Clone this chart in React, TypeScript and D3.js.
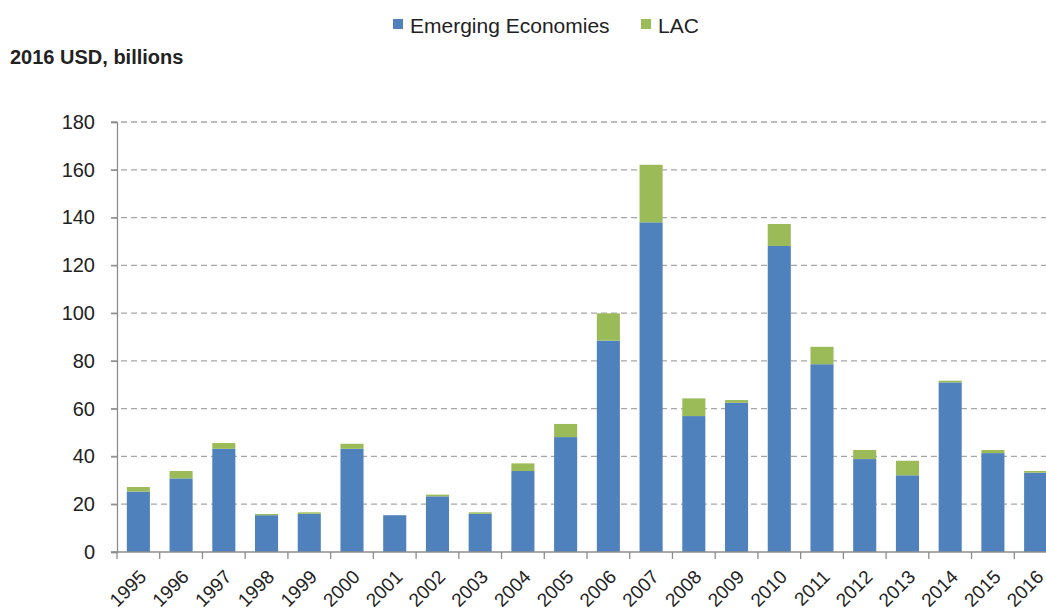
import { useEffect, useRef } from 'react';
import * as d3 from 'd3';

const years = ['1995', '1996', '1997', '1998', '1999', '2000', '2001', '2002', '2003', '2004', '2005',
  '2006', '2007', '2008', '2009', '2010', '2011', '2012', '2013', '2014', '2015', '2016'];
const emerging = [25.3, 30.8, 43.2, 15.4, 16.0, 43.2, 15.4, 23.3, 16.0, 33.9, 48.1,
  88.5, 138.0, 56.9, 62.5, 128.1, 78.6, 38.9, 32.1, 71.0, 41.4, 33.2];
const lac = [1.9, 3.1, 2.4, 0.5, 0.6, 2.1, 0, 0.7, 0.6, 3.2, 5.5,
  11.4, 24.1, 7.4, 1.1, 9.2, 7.3, 3.8, 6.1, 0.7, 1.3, 0.7];
const yTicks = [0, 20, 40, 60, 80, 100, 120, 140, 160, 180];

const BLUE = '#4f81bd';
const GREEN = '#9bbb59';

export default function App() {
  const svgRef = useRef<SVGSVGElement>(null);

  useEffect(() => {
    document.body.style.margin = '0';
    if (!svgRef.current) return;
    const svg = d3.select(svgRef.current);
    svg.selectAll('*').remove();

    const font = "'Liberation Sans', Arial, sans-serif";

    const x = d3.scaleBand().domain(years).range([117, 1057]).paddingInner(0.46).paddingOuter(0.23);
    const y = d3.scaleLinear().domain([0, 180]).range([552, 122]);

    // grid
    svg.append('g')
      .selectAll('line')
      .data(yTicks.filter(d => d > 0))
      .enter().append('line')
      .attr('x1', 111).attr('x2', 1046)
      .attr('y1', d => y(d)).attr('y2', d => y(d))
      .attr('stroke', '#a6a6a6')
      .attr('stroke-width', 1.3)
      .attr('stroke-dasharray', '6,4');

    // bars
    const g = svg.append('g');
    years.forEach((yr, i) => {
      g.append('rect')
        .attr('x', x(yr)!)
        .attr('width', x.bandwidth())
        .attr('y', y(emerging[i]))
        .attr('height', y(0) - y(emerging[i]))
        .attr('fill', BLUE);
      if (lac[i] > 0) {
        g.append('rect')
          .attr('x', x(yr)!)
          .attr('width', x.bandwidth())
          .attr('y', y(emerging[i] + lac[i]))
          .attr('height', y(emerging[i]) - y(emerging[i] + lac[i]))
          .attr('fill', GREEN);
      }
    });

    // y axis
    const yAxis = svg.append('g')
      .attr('transform', 'translate(117,0)')
      .call(d3.axisLeft(y).tickValues(yTicks).tickSize(6).tickPadding(16));
    yAxis.select('.domain').attr('stroke', '#8c8c8c').attr('stroke-width', 1.3);
    yAxis.selectAll('.tick line').attr('stroke', '#8c8c8c').attr('stroke-width', 1.3);
    yAxis.selectAll('text')
      .attr('font-family', font)
      .attr('font-size', 20)
      .attr('fill', '#222');

    // x axis
    const xAxisG = svg.append('g').attr('transform', `translate(0,${y(0)})`);
    xAxisG.append('line')
      .attr('x1', 111).attr('x2', 1046).attr('y1', 0).attr('y2', 0)
      .attr('stroke', '#8c8c8c').attr('stroke-width', 1.3);
    xAxisG.selectAll('line.tk')
      .data(years)
      .enter().append('line')
      .attr('class', 'tk')
      .attr('x1', d => x(d)! - x.step() * 0.23)
      .attr('x2', d => x(d)! - x.step() * 0.23)
      .attr('y1', 0).attr('y2', 7)
      .attr('stroke', '#8c8c8c').attr('stroke-width', 1.3);
    xAxisG.selectAll('text')
      .data(years)
      .enter().append('text')
      .attr('transform', d => `translate(${x(d)! + x.bandwidth() / 2 + 9},${26}) rotate(-45)`)
      .attr('text-anchor', 'end')
      .attr('font-family', font)
      .attr('font-size', 19)
      .attr('fill', '#222')
      .text(d => d);

    // y title
    svg.append('text')
      .attr('x', 10).attr('y', 64)
      .attr('font-family', font)
      .attr('font-size', 20)
      .attr('font-weight', 'bold')
      .attr('fill', '#222')
      .text('2016 USD, billions');

    // legend
    const legend = svg.append('g')
      .selectAll('g')
      .data([{ name: 'Emerging Economies', color: BLUE, x: 393 }, { name: 'LAC', color: GREEN, x: 641 }])
      .enter().append('g')
      .attr('transform', d => `translate(${d.x},0)`);
    legend.append('rect')
      .attr('x', 0).attr('y', 19).attr('width', 10).attr('height', 10)
      .attr('fill', d => d.color);
    legend.append('text')
      .attr('x', 17).attr('y', 33)
      .attr('font-family', font)
      .attr('font-size', 21)
      .attr('fill', '#222')
      .text(d => d.name);
  }, []);

  return <svg ref={svgRef} width={1046} height={612} style={{ display: 'block' }} />;
}
